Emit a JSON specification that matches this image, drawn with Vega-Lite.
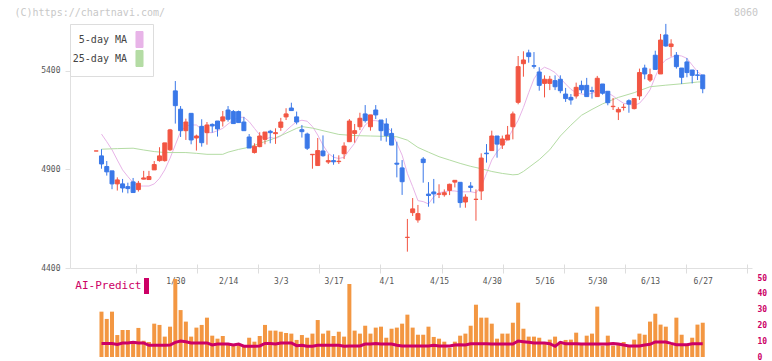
{
  "$schema": "https://vega.github.io/schema/vega-lite/v6.json",
  "width": 682,
  "height": 334,
  "autosize": "none",
  "padding": {"left": 70, "top": 24, "right": 20, "bottom": 3},
  "background": "white",
  "config": {"view": {"stroke": null}, "font": "DejaVu Sans Mono"},
  "datasets": {
    "candles": [
      {"i":0,"o":4994,"h":4994,"l":4994,"c":4994},
      {"i":1,"o":4969,"h":5003,"l":4904,"c":4928},
      {"i":2,"o":4915,"h":4943,"l":4869,"c":4888},
      {"i":3,"o":4893,"h":4893,"l":4800,"c":4827},
      {"i":4,"o":4827,"h":4860,"l":4793,"c":4847},
      {"i":5,"o":4827,"h":4852,"l":4783,"c":4806},
      {"i":6,"o":4813,"h":4833,"l":4779,"c":4803},
      {"i":7,"o":4837,"h":4857,"l":4783,"c":4783},
      {"i":8,"o":4798,"h":4842,"l":4788,"c":4830},
      {"i":9,"o":4851,"h":4893,"l":4850,"c":4857},
      {"i":10,"o":4849,"h":4893,"l":4849,"c":4864},
      {"i":11,"o":4898,"h":4943,"l":4898,"c":4925},
      {"i":12,"o":4945,"h":5013,"l":4940,"c":4969},
      {"i":13,"o":4945,"h":5035,"l":4940,"c":5035},
      {"i":14,"o":5000,"h":5106,"l":4994,"c":5101},
      {"i":15,"o":5299,"h":5349,"l":5133,"c":5224},
      {"i":16,"o":5206,"h":5222,"l":5065,"c":5097},
      {"i":17,"o":5097,"h":5158,"l":5050,"c":5141},
      {"i":18,"o":5185,"h":5185,"l":5028,"c":5050},
      {"i":19,"o":5060,"h":5077,"l":4996,"c":5070},
      {"i":20,"o":5119,"h":5155,"l":5016,"c":5036},
      {"i":21,"o":5087,"h":5141,"l":5026,"c":5126},
      {"i":22,"o":5129,"h":5134,"l":5087,"c":5121},
      {"i":23,"o":5146,"h":5146,"l":5067,"c":5106},
      {"i":24,"o":5146,"h":5197,"l":5118,"c":5167},
      {"i":25,"o":5202,"h":5222,"l":5143,"c":5155},
      {"i":26,"o":5194,"h":5202,"l":5133,"c":5133},
      {"i":27,"o":5194,"h":5199,"l":5138,"c":5138},
      {"i":28,"o":5141,"h":5167,"l":5097,"c":5097},
      {"i":29,"o":5065,"h":5080,"l":5009,"c":5009},
      {"i":30,"o":4986,"h":5033,"l":4981,"c":5018},
      {"i":31,"o":5016,"h":5089,"l":5013,"c":5070},
      {"i":32,"o":5053,"h":5090,"l":5028,"c":5090},
      {"i":33,"o":5094,"h":5101,"l":5033,"c":5087},
      {"i":34,"o":5082,"h":5109,"l":5030,"c":5087},
      {"i":35,"o":5114,"h":5162,"l":5096,"c":5141},
      {"i":36,"o":5167,"h":5211,"l":5151,"c":5182},
      {"i":37,"o":5212,"h":5239,"l":5199,"c":5199},
      {"i":38,"o":5167,"h":5194,"l":5129,"c":5141},
      {"i":39,"o":5102,"h":5126,"l":5062,"c":5092},
      {"i":40,"o":5080,"h":5087,"l":4999,"c":5008},
      {"i":41,"o":4975,"h":4977,"l":4904,"c":4977},
      {"i":42,"o":4920,"h":5060,"l":4920,"c":4996},
      {"i":43,"o":4994,"h":5073,"l":4965,"c":4970},
      {"i":44,"o":4938,"h":4977,"l":4928,"c":4945},
      {"i":45,"o":4945,"h":4977,"l":4924,"c":4939},
      {"i":46,"o":4940,"h":4972,"l":4928,"c":4942},
      {"i":47,"o":4980,"h":5038,"l":4953,"c":5019},
      {"i":48,"o":5041,"h":5156,"l":5041,"c":5146},
      {"i":49,"o":5083,"h":5131,"l":5036,"c":5097},
      {"i":50,"o":5117,"h":5188,"l":5100,"c":5160},
      {"i":51,"o":5182,"h":5227,"l":5138,"c":5148},
      {"i":52,"o":5117,"h":5177,"l":5097,"c":5177},
      {"i":53,"o":5202,"h":5227,"l":5156,"c":5177},
      {"i":54,"o":5151,"h":5151,"l":5046,"c":5097},
      {"i":55,"o":5131,"h":5160,"l":5041,"c":5072},
      {"i":56,"o":5083,"h":5109,"l":5024,"c":5024},
      {"i":57,"o":4932,"h":5041,"l":4860,"c":4927},
      {"i":58,"o":4908,"h":4948,"l":4771,"c":4838},
      {"i":59,"o":4555,"h":4649,"l":4483,"c":4556},
      {"i":60,"o":4681,"h":4755,"l":4664,"c":4700},
      {"i":61,"o":4644,"h":4720,"l":4630,"c":4676},
      {"i":62,"o":4953,"h":4963,"l":4833,"c":4935},
      {"i":63,"o":4775,"h":4836,"l":4711,"c":4768},
      {"i":64,"o":4786,"h":4852,"l":4728,"c":4776},
      {"i":65,"o":4775,"h":4825,"l":4755,"c":4776},
      {"i":66,"o":4772,"h":4799,"l":4762,"c":4782},
      {"i":67,"o":4794,"h":4828,"l":4770,"c":4825},
      {"i":68,"o":4836,"h":4845,"l":4809,"c":4845},
      {"i":69,"o":4835,"h":4835,"l":4706,"c":4732},
      {"i":70,"o":4735,"h":4774,"l":4706,"c":4760},
      {"i":71,"o":4816,"h":4836,"l":4787,"c":4809},
      {"i":72,"o":4748,"h":4799,"l":4640,"c":4749},
      {"i":73,"o":4791,"h":4982,"l":4745,"c":4958},
      {"i":74,"o":4983,"h":5029,"l":4935,"c":4980},
      {"i":75,"o":4996,"h":5097,"l":4996,"c":5070},
      {"i":76,"o":5070,"h":5070,"l":4960,"c":5029},
      {"i":77,"o":5024,"h":5072,"l":5004,"c":5055},
      {"i":78,"o":5050,"h":5121,"l":5050,"c":5075},
      {"i":79,"o":5117,"h":5194,"l":5053,"c":5182},
      {"i":80,"o":5241,"h":5476,"l":5231,"c":5422},
      {"i":81,"o":5437,"h":5500,"l":5371,"c":5456},
      {"i":82,"o":5492,"h":5508,"l":5442,"c":5473},
      {"i":83,"o":5427,"h":5496,"l":5412,"c":5424},
      {"i":84,"o":5395,"h":5419,"l":5300,"c":5327},
      {"i":85,"o":5337,"h":5378,"l":5266,"c":5358},
      {"i":86,"o":5337,"h":5375,"l":5303,"c":5358},
      {"i":87,"o":5351,"h":5378,"l":5303,"c":5320},
      {"i":88,"o":5358,"h":5378,"l":5287,"c":5300},
      {"i":89,"o":5283,"h":5314,"l":5243,"c":5260},
      {"i":90,"o":5266,"h":5283,"l":5229,"c":5253},
      {"i":91,"o":5273,"h":5341,"l":5260,"c":5317},
      {"i":92,"o":5327,"h":5351,"l":5287,"c":5304},
      {"i":93,"o":5327,"h":5365,"l":5270,"c":5270},
      {"i":94,"o":5300,"h":5320,"l":5260,"c":5297},
      {"i":95,"o":5270,"h":5375,"l":5270,"c":5363},
      {"i":96,"o":5334,"h":5334,"l":5280,"c":5287},
      {"i":97,"o":5297,"h":5297,"l":5226,"c":5239},
      {"i":98,"o":5219,"h":5263,"l":5202,"c":5221},
      {"i":99,"o":5192,"h":5216,"l":5151,"c":5205},
      {"i":100,"o":5215,"h":5233,"l":5199,"c":5216},
      {"i":101,"o":5249,"h":5256,"l":5188,"c":5232},
      {"i":102,"o":5209,"h":5260,"l":5205,"c":5260},
      {"i":103,"o":5273,"h":5412,"l":5253,"c":5392},
      {"i":104,"o":5415,"h":5432,"l":5358,"c":5385},
      {"i":105,"o":5354,"h":5412,"l":5344,"c":5381},
      {"i":106,"o":5480,"h":5503,"l":5408,"c":5408},
      {"i":107,"o":5385,"h":5588,"l":5385,"c":5557},
      {"i":108,"o":5583,"h":5639,"l":5523,"c":5527},
      {"i":109,"o":5524,"h":5561,"l":5473,"c":5537},
      {"i":110,"o":5480,"h":5496,"l":5412,"c":5422},
      {"i":111,"o":5415,"h":5415,"l":5334,"c":5368},
      {"i":112,"o":5446,"h":5466,"l":5368,"c":5392},
      {"i":113,"o":5405,"h":5405,"l":5337,"c":5378},
      {"i":114,"o":5380,"h":5405,"l":5354,"c":5378},
      {"i":115,"o":5380,"h":5380,"l":5287,"c":5310}
    ],
    "ma": [
      {"i":1,"ma":"5-day MA","v":5080},{"i":2,"ma":"5-day MA","v":5041},{"i":3,"ma":"5-day MA","v":5000},{"i":4,"ma":"5-day MA","v":4948},{"i":5,"ma":"5-day MA","v":4898},
      {"i":6,"ma":"5-day MA","v":4864},{"i":7,"ma":"5-day MA","v":4833},{"i":8,"ma":"5-day MA","v":4816},{"i":9,"ma":"5-day MA","v":4816},{"i":10,"ma":"5-day MA","v":4816},
      {"i":11,"ma":"5-day MA","v":4827},{"i":12,"ma":"5-day MA","v":4855},{"i":13,"ma":"5-day MA","v":4898},{"i":14,"ma":"5-day MA","v":4957},{"i":15,"ma":"5-day MA","v":5025},
      {"i":16,"ma":"5-day MA","v":5092},{"i":17,"ma":"5-day MA","v":5121},{"i":18,"ma":"5-day MA","v":5126},{"i":19,"ma":"5-day MA","v":5126},{"i":20,"ma":"5-day MA","v":5104},
      {"i":21,"ma":"5-day MA","v":5087},{"i":22,"ma":"5-day MA","v":5087},{"i":23,"ma":"5-day MA","v":5097},{"i":24,"ma":"5-day MA","v":5109},{"i":25,"ma":"5-day MA","v":5131},
      {"i":26,"ma":"5-day MA","v":5151},{"i":27,"ma":"5-day MA","v":5165},{"i":28,"ma":"5-day MA","v":5165},{"i":29,"ma":"5-day MA","v":5143},{"i":30,"ma":"5-day MA","v":5109},
      {"i":31,"ma":"5-day MA","v":5075},{"i":32,"ma":"5-day MA","v":5053},{"i":33,"ma":"5-day MA","v":5063},{"i":34,"ma":"5-day MA","v":5057},{"i":35,"ma":"5-day MA","v":5070},
      {"i":36,"ma":"5-day MA","v":5097},{"i":37,"ma":"5-day MA","v":5121},{"i":38,"ma":"5-day MA","v":5143},{"i":39,"ma":"5-day MA","v":5150},{"i":40,"ma":"5-day MA","v":5145},
      {"i":41,"ma":"5-day MA","v":5118},{"i":42,"ma":"5-day MA","v":5075},{"i":43,"ma":"5-day MA","v":5024},{"i":44,"ma":"5-day MA","v":4982},{"i":45,"ma":"5-day MA","v":4962},
      {"i":46,"ma":"5-day MA","v":4956},{"i":47,"ma":"5-day MA","v":4962},{"i":48,"ma":"5-day MA","v":4999},{"i":49,"ma":"5-day MA","v":5033},{"i":50,"ma":"5-day MA","v":5083},
      {"i":51,"ma":"5-day MA","v":5126},{"i":52,"ma":"5-day MA","v":5148},{"i":53,"ma":"5-day MA","v":5148},{"i":54,"ma":"5-day MA","v":5143},{"i":55,"ma":"5-day MA","v":5121},
      {"i":56,"ma":"5-day MA","v":5092},{"i":57,"ma":"5-day MA","v":5033},{"i":58,"ma":"5-day MA","v":4973},{"i":59,"ma":"5-day MA","v":4880},{"i":60,"ma":"5-day MA","v":4813},
      {"i":61,"ma":"5-day MA","v":4742},{"i":62,"ma":"5-day MA","v":4737},{"i":63,"ma":"5-day MA","v":4725},{"i":64,"ma":"5-day MA","v":4762},{"i":65,"ma":"5-day MA","v":4782},
      {"i":66,"ma":"5-day MA","v":4787},{"i":67,"ma":"5-day MA","v":4792},{"i":68,"ma":"5-day MA","v":4791},{"i":69,"ma":"5-day MA","v":4786},{"i":70,"ma":"5-day MA","v":4787},
      {"i":71,"ma":"5-day MA","v":4787},{"i":72,"ma":"5-day MA","v":4782},{"i":73,"ma":"5-day MA","v":4813},{"i":74,"ma":"5-day MA","v":4880},{"i":75,"ma":"5-day MA","v":4948},
      {"i":76,"ma":"5-day MA","v":4990},{"i":77,"ma":"5-day MA","v":5019},{"i":78,"ma":"5-day MA","v":5053},{"i":79,"ma":"5-day MA","v":5104},{"i":80,"ma":"5-day MA","v":5150},
      {"i":81,"ma":"5-day MA","v":5215},{"i":82,"ma":"5-day MA","v":5290},{"i":83,"ma":"5-day MA","v":5360},{"i":84,"ma":"5-day MA","v":5400},{"i":85,"ma":"5-day MA","v":5419},
      {"i":86,"ma":"5-day MA","v":5408},{"i":87,"ma":"5-day MA","v":5392},{"i":88,"ma":"5-day MA","v":5363},{"i":89,"ma":"5-day MA","v":5334},{"i":90,"ma":"5-day MA","v":5307},
      {"i":91,"ma":"5-day MA","v":5290},{"i":92,"ma":"5-day MA","v":5283},{"i":93,"ma":"5-day MA","v":5280},{"i":94,"ma":"5-day MA","v":5287},{"i":95,"ma":"5-day MA","v":5297},
      {"i":96,"ma":"5-day MA","v":5304},{"i":97,"ma":"5-day MA","v":5290},{"i":98,"ma":"5-day MA","v":5273},{"i":99,"ma":"5-day MA","v":5253},{"i":100,"ma":"5-day MA","v":5236},
      {"i":101,"ma":"5-day MA","v":5231},{"i":102,"ma":"5-day MA","v":5226},{"i":103,"ma":"5-day MA","v":5236},{"i":104,"ma":"5-day MA","v":5266},{"i":105,"ma":"5-day MA","v":5304},
      {"i":106,"ma":"5-day MA","v":5371},{"i":107,"ma":"5-day MA","v":5430},{"i":108,"ma":"5-day MA","v":5456},{"i":109,"ma":"5-day MA","v":5469},{"i":110,"ma":"5-day MA","v":5480},
      {"i":111,"ma":"5-day MA","v":5476},{"i":112,"ma":"5-day MA","v":5464},{"i":113,"ma":"5-day MA","v":5430},{"i":114,"ma":"5-day MA","v":5397},{"i":115,"ma":"5-day MA","v":5375},
      {"i":1,"ma":"25-day MA","v":5003},{"i":4,"ma":"25-day MA","v":5006},{"i":7,"ma":"25-day MA","v":5008},{"i":9,"ma":"25-day MA","v":4999},{"i":11,"ma":"25-day MA","v":4991},
      {"i":13,"ma":"25-day MA","v":4986},{"i":17,"ma":"25-day MA","v":4986},{"i":19,"ma":"25-day MA","v":4982},{"i":21,"ma":"25-day MA","v":4977},{"i":24,"ma":"25-day MA","v":4977},
      {"i":25,"ma":"25-day MA","v":4988},{"i":27,"ma":"25-day MA","v":5002},{"i":29,"ma":"25-day MA","v":5013},{"i":31,"ma":"25-day MA","v":5033},{"i":33,"ma":"25-day MA","v":5050},
      {"i":35,"ma":"25-day MA","v":5072},{"i":38,"ma":"25-day MA","v":5109},{"i":39,"ma":"25-day MA","v":5118},{"i":41,"ma":"25-day MA","v":5110},{"i":43,"ma":"25-day MA","v":5097},
      {"i":46,"ma":"25-day MA","v":5078},{"i":49,"ma":"25-day MA","v":5072},{"i":52,"ma":"25-day MA","v":5070},{"i":55,"ma":"25-day MA","v":5068},{"i":57,"ma":"25-day MA","v":5066},
      {"i":59,"ma":"25-day MA","v":5049},{"i":61,"ma":"25-day MA","v":5012},{"i":63,"ma":"25-day MA","v":4988},{"i":65,"ma":"25-day MA","v":4965},{"i":67,"ma":"25-day MA","v":4948},
      {"i":69,"ma":"25-day MA","v":4931},{"i":71,"ma":"25-day MA","v":4916},{"i":73,"ma":"25-day MA","v":4904},{"i":75,"ma":"25-day MA","v":4890},{"i":77,"ma":"25-day MA","v":4880},
      {"i":79,"ma":"25-day MA","v":4873},{"i":80,"ma":"25-day MA","v":4875},{"i":81,"ma":"25-day MA","v":4890},{"i":83,"ma":"25-day MA","v":4930},{"i":84,"ma":"25-day MA","v":4950},
      {"i":86,"ma":"25-day MA","v":5000},{"i":88,"ma":"25-day MA","v":5070},{"i":90,"ma":"25-day MA","v":5125},{"i":92,"ma":"25-day MA","v":5175},{"i":94,"ma":"25-day MA","v":5205},
      {"i":96,"ma":"25-day MA","v":5233},{"i":99,"ma":"25-day MA","v":5266},{"i":102,"ma":"25-day MA","v":5290},{"i":105,"ma":"25-day MA","v":5320},{"i":108,"ma":"25-day MA","v":5328},
      {"i":111,"ma":"25-day MA","v":5335},{"i":114,"ma":"25-day MA","v":5344},{"i":115,"ma":"25-day MA","v":5345}
    ],
    "vol": [
      {"i":1,"v":28.7,"ai":8.6},{"i":2,"v":24.1,"ai":8.6},{"i":3,"v":28.7,"ai":8.6},{"i":4,"v":13.9,"ai":8.0},{"i":5,"v":17.1,"ai":8.9},
      {"i":6,"v":17.1,"ai":8.9},{"i":7,"v":10.1,"ai":9.3},{"i":8,"v":18.4,"ai":8.9},{"i":9,"v":10.3,"ai":8.9},{"i":10,"v":9.5,"ai":7.4},
      {"i":11,"v":21.1,"ai":7.4},{"i":12,"v":20.3,"ai":7.4},{"i":13,"v":12.9,"ai":7.4},{"i":14,"v":19.2,"ai":7.6},{"i":15,"v":49.4,"ai":9.3},
      {"i":16,"v":29.7,"ai":10.1},{"i":17,"v":22.4,"ai":9.7},{"i":18,"v":12.9,"ai":8.9},{"i":19,"v":18.6,"ai":8.9},{"i":20,"v":20.3,"ai":8.9},
      {"i":21,"v":24.9,"ai":8.9},{"i":22,"v":13.5,"ai":7.6},{"i":23,"v":11.6,"ai":8.2},{"i":24,"v":13.3,"ai":8.2},{"i":25,"v":8.2,"ai":8.2},
      {"i":26,"v":8.2,"ai":7.6},{"i":27,"v":8.2,"ai":8.2},{"i":28,"v":7.0,"ai":6.8},{"i":29,"v":12.2,"ai":6.8},{"i":30,"v":9.7,"ai":6.8},
      {"i":31,"v":13.3,"ai":7.0},{"i":32,"v":20.3,"ai":8.6},{"i":33,"v":16.7,"ai":8.6},{"i":34,"v":16.7,"ai":8.2},{"i":35,"v":16.0,"ai":8.9},
      {"i":36,"v":15.2,"ai":8.9},{"i":37,"v":14.8,"ai":8.9},{"i":38,"v":10.8,"ai":7.2},{"i":39,"v":13.9,"ai":7.4},{"i":40,"v":12.2,"ai":6.8},
      {"i":41,"v":14.8,"ai":6.8},{"i":42,"v":23.4,"ai":7.4},{"i":43,"v":14.8,"ai":7.4},{"i":44,"v":16.7,"ai":7.4},{"i":45,"v":13.3,"ai":7.4},
      {"i":46,"v":16.0,"ai":7.4},{"i":47,"v":12.9,"ai":6.8},{"i":48,"v":46.2,"ai":7.0},{"i":49,"v":16.7,"ai":7.0},{"i":50,"v":14.8,"ai":7.0},
      {"i":51,"v":19.8,"ai":8.2},{"i":52,"v":14.8,"ai":8.2},{"i":53,"v":18.6,"ai":8.6},{"i":54,"v":19.2,"ai":8.2},{"i":55,"v":12.2,"ai":8.2},
      {"i":56,"v":17.9,"ai":8.2},{"i":57,"v":18.6,"ai":7.4},{"i":58,"v":21.1,"ai":7.0},{"i":59,"v":26.8,"ai":7.0},{"i":60,"v":18.6,"ai":7.0},
      {"i":61,"v":14.1,"ai":7.0},{"i":62,"v":14.1,"ai":7.0},{"i":63,"v":19.2,"ai":7.0},{"i":64,"v":12.7,"ai":7.4},{"i":65,"v":11.6,"ai":7.0},
      {"i":66,"v":9.7,"ai":7.0},{"i":67,"v":5.9,"ai":7.0},{"i":68,"v":9.7,"ai":7.6},{"i":69,"v":13.5,"ai":7.8},{"i":70,"v":14.8,"ai":7.6},
      {"i":71,"v":19.8,"ai":8.4},{"i":72,"v":33.1,"ai":8.4},{"i":73,"v":24.9,"ai":8.4},{"i":74,"v":24.9,"ai":8.4},{"i":75,"v":21.1,"ai":8.2},
      {"i":76,"v":11.6,"ai":8.2},{"i":77,"v":14.8,"ai":8.2},{"i":78,"v":14.8,"ai":8.2},{"i":79,"v":21.7,"ai":8.2},{"i":80,"v":34.4,"ai":10.1},
      {"i":81,"v":17.9,"ai":9.7},{"i":82,"v":12.9,"ai":9.3},{"i":83,"v":12.9,"ai":8.9},{"i":84,"v":12.2,"ai":8.9},{"i":85,"v":8.2,"ai":8.9},
      {"i":86,"v":11.0,"ai":8.4},{"i":87,"v":12.9,"ai":6.8},{"i":88,"v":9.7,"ai":9.3},{"i":89,"v":10.8,"ai":8.4},{"i":90,"v":11.0,"ai":8.4},
      {"i":91,"v":15.4,"ai":8.4},{"i":92,"v":7.6,"ai":8.2},{"i":93,"v":13.5,"ai":8.2},{"i":94,"v":14.8,"ai":8.2},{"i":95,"v":31.9,"ai":8.2},
      {"i":96,"v":7.2,"ai":8.2},{"i":97,"v":13.5,"ai":8.2},{"i":98,"v":7.2,"ai":8.6},{"i":99,"v":8.0,"ai":8.2},{"i":100,"v":9.5,"ai":7.6},
      {"i":101,"v":7.4,"ai":7.0},{"i":102,"v":11.0,"ai":7.0},{"i":103,"v":14.8,"ai":7.0},{"i":104,"v":14.1,"ai":7.6},{"i":105,"v":22.4,"ai":8.0},
      {"i":106,"v":27.4,"ai":9.5},{"i":107,"v":20.5,"ai":9.5},{"i":108,"v":19.2,"ai":9.5},{"i":109,"v":7.8,"ai":8.6},{"i":110,"v":24.9,"ai":7.8},
      {"i":111,"v":14.1,"ai":7.8},{"i":112,"v":7.2,"ai":7.8},{"i":113,"v":12.2,"ai":8.4},{"i":114,"v":20.5,"ai":8.4},{"i":115,"v":21.7,"ai":8.4}
    ]
  },
  "resolve": {"scale": {"y": "independent"}, "axis": {"x": "independent", "y": "independent"}},
  "layer": [
    {
      "layer": [
        {
          "data": {"name": "ma"},
          "mark": {"type": "line", "strokeWidth": 1},
          "encoding": {
            "x": {"field": "i", "type": "quantitative", "scale": {"domain": [-4.02, 123.39], "nice": false, "zero": false},
              "axis": {"orient": "bottom", "offset": -90, "title": null, "grid": false, "ticks": false, "domain": true, "domainColor": "#e0e0e0",
                "values": [15, 25, 35, 45, 55, 65, 75, 85, 95, 105, 115],
                "labelExpr": "['1/30','2/14','3/3','3/17','4/1','4/15','4/30','5/16','5/30','6/13','6/27'][indexof([15,25,35,45,55,65,75,85,95,105,115], datum.value)]",
                "labelPadding": 9, "labelFontSize": 8, "labelColor": "#555555", "labelFont": "DejaVu Sans Mono", "labelFlush": false, "labelOverlap": false}},
            "y": {"field": "v", "type": "quantitative", "scale": {"domain": [4400, 5638.5], "range": [244, 0], "nice": false, "zero": false},
              "axis": {"orient": "left", "values": [4400, 4900, 5400], "format": "d", "grid": false, "domainColor": "#e0e0e0", "tickColor": "#e0e0e0", "tickSize": 5,
                "labelPadding": 5, "labelFontSize": 8, "labelColor": "#555555", "labelFont": "DejaVu Sans Mono",
                "title": "(C)https://chartnavi.com/", "titleAngle": 0, "titleAlign": "left", "titleBaseline": "middle", "titleX": -56, "titleY": -12,
                "titleColor": "#c8c8c8", "titleFont": "DejaVu Sans Mono", "titleFontSize": 10, "titleFontWeight": "normal"}},
            "color": {"field": "ma", "type": "nominal",
              "scale": {"domain": ["5-day MA", "25-day MA"], "range": ["#e8b4e8", "#b4dca4"]},
              "legend": {"orient": "none", "legendX": 0, "legendY": 0, "title": null, "fillColor": "white", "strokeColor": "#dddddd",
                "padding": 7, "rowPadding": -3, "symbolType": "M-0.44,-1H0.44V1H-0.44Z", "symbolSize": 256,
                "symbolStrokeWidth": 1, "symbolStrokeColor": "#555555", "symbolOffset": 54, "labelOffset": -21, "labelAlign": "right",
                "labelFont": "DejaVu Sans Mono", "labelFontSize": 10, "labelColor": "#444444",
                "encode": {
                  "symbols": {"update": {"fill": {"scale": "color", "field": "value"}, "stroke": {"value": "#555555"}, "strokeWidth": {"value": 1}}},
                  "labels": {"update": {"align": {"value": "right"}}}
                }}}
          }
        },
        {
          "data": {"name": "candles"},
          "mark": {"type": "rule", "strokeWidth": 1},
          "encoding": {
            "x": {"field": "i", "type": "quantitative"},
            "y": {"field": "l", "type": "quantitative"},
            "y2": {"field": "h"},
            "color": {"condition": {"test": "datum.c >= datum.o", "value": "#f25542"}, "value": "#3a78e8"}
          }
        },
        {
          "data": {"name": "candles"},
          "mark": {"type": "bar", "width": 4, "strokeWidth": 1},
          "encoding": {
            "x": {"field": "i", "type": "quantitative"},
            "y": {"field": "o", "type": "quantitative"},
            "y2": {"field": "c"},
            "color": {"condition": {"test": "datum.c >= datum.o", "value": "#f25542"}, "value": "#3a78e8"},
            "stroke": {"condition": {"test": "datum.c >= datum.o", "value": "#f25542"}, "value": "#3a78e8"}
          }
        }
      ]
    },
    {
      "layer": [
        {
          "data": {"name": "vol"},
          "mark": {"type": "bar", "width": 4, "color": "#f39742"},
          "encoding": {
            "x": {"field": "i", "type": "quantitative",
              "axis": {"orient": "bottom", "offset": -94, "grid": false, "domain": false, "labels": false, "ticks": true, "tickSize": 9, "tickColor": "#dddddd",
                "values": [7.563, 19.146, 30.729, 42.312, 53.895, 65.478, 77.061, 88.644, 100.227, 111.81, 123.39],
                "title": "8060", "titleAngle": 0, "titleAlign": "center", "titleBaseline": "middle", "titleX": 675.5, "titleY": -252,
                "titleColor": "#c8c8c8", "titleFont": "DejaVu Sans Mono", "titleFontSize": 10, "titleFontWeight": "normal"}},
            "y": {"field": "v", "type": "quantitative", "scale": {"domain": [0, 50], "range": [333, 254], "nice": false},
              "axis": {"orient": "right", "values": [0, 10, 20, 30, 40, 50], "grid": false, "domain": false, "ticks": false, "labelPadding": 5,
                "labelFontSize": 8, "labelFontWeight": "bold", "labelColor": "#cc0066", "labelFont": "DejaVu Sans Mono", "title": null}}
          }
        },
        {
          "data": {"name": "vol"},
          "mark": {"type": "line", "strokeWidth": 3},
          "encoding": {
            "x": {"field": "i", "type": "quantitative"},
            "y": {"field": "ai", "type": "quantitative"},
            "stroke": {"datum": "AI-Predict", "scale": {"range": ["#cc0066"]},
              "legend": {"orient": "none", "legendX": 0, "legendY": 254, "title": null, "padding": 0,
                "symbolType": "M-0.31,-1H0.31V1H-0.31Z", "symbolSize": 256, "symbolFillColor": "#cc0066", "symbolStrokeWidth": 0,
                "symbolOffset": 68.5, "labelOffset": -13, "labelAlign": "right", "labelFont": "DejaVu Sans Mono", "labelFontSize": 11, "labelColor": "#cc0066",
                "encode": {
                  "symbols": {"update": {"fill": {"value": "#cc0066"}, "strokeWidth": {"value": 0}}},
                  "labels": {"update": {"align": {"value": "right"}}}
                }}}
          }
        }
      ]
    }
  ]
}
